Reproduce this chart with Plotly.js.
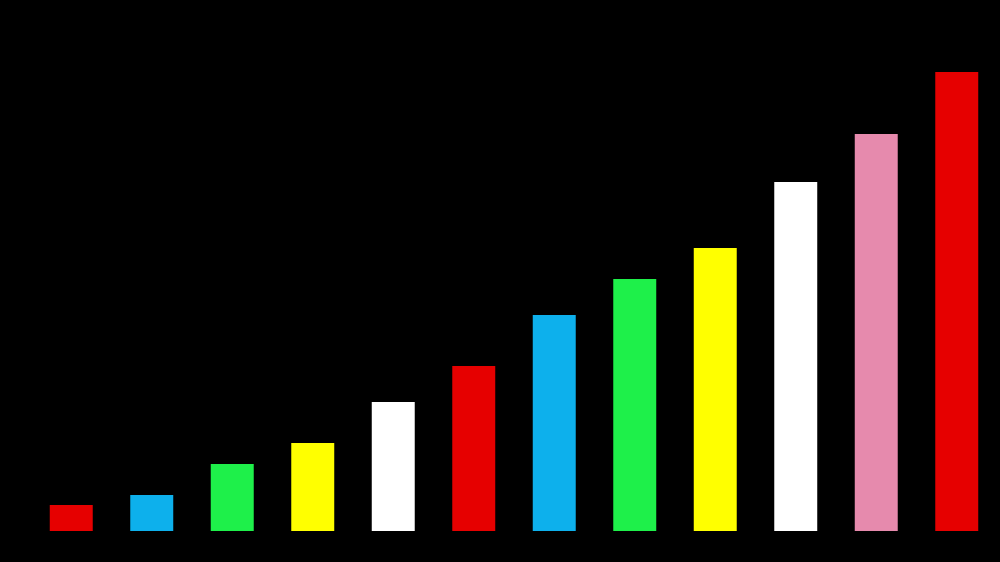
<!DOCTYPE html>
<html>
<head>
<meta charset="utf-8">
<script src="https://cdn.plot.ly/plotly-3.0.1.min.js"></script>
<style>
html,body{margin:0;padding:0;background:#000;}
#chart{width:1000px;height:562px;}
</style>
</head>
<body>
<div id="chart"></div>
<script>
var categories = ["1","2","3","4","5","6","7","8","9","10","11","12"];
var values = [26, 36, 67, 88, 129, 165, 216, 252, 283, 349, 397, 459];
var barColors = ["#e60000","#0db0ec","#1ef04a","#ffff00","#ffffff","#e60000","#0db0ec","#1ef04a","#ffff00","#ffffff","#e68aad","#e60000"];

var trace = {
  type: "bar",
  x: categories,
  y: values,
  marker: {color: barColors, line: {width: 0}},
  hoverinfo: "x+y"
};

var layout = {
  width: 1000,
  height: 562,
  paper_bgcolor: "#000000",
  plot_bgcolor: "#000000",
  margin: {l: 31, r: 3, t: 0, b: 31, pad: 0},
  bargap: 0.466,
  showlegend: false,
  xaxis: {visible: false, type: "category", range: [-0.5, 11.5], fixedrange: true},
  yaxis: {visible: false, range: [0, 531], fixedrange: true}
};

Plotly.newPlot("chart", [trace], layout, {displayModeBar: false, staticPlot: true});
</script>
</body>
</html>
